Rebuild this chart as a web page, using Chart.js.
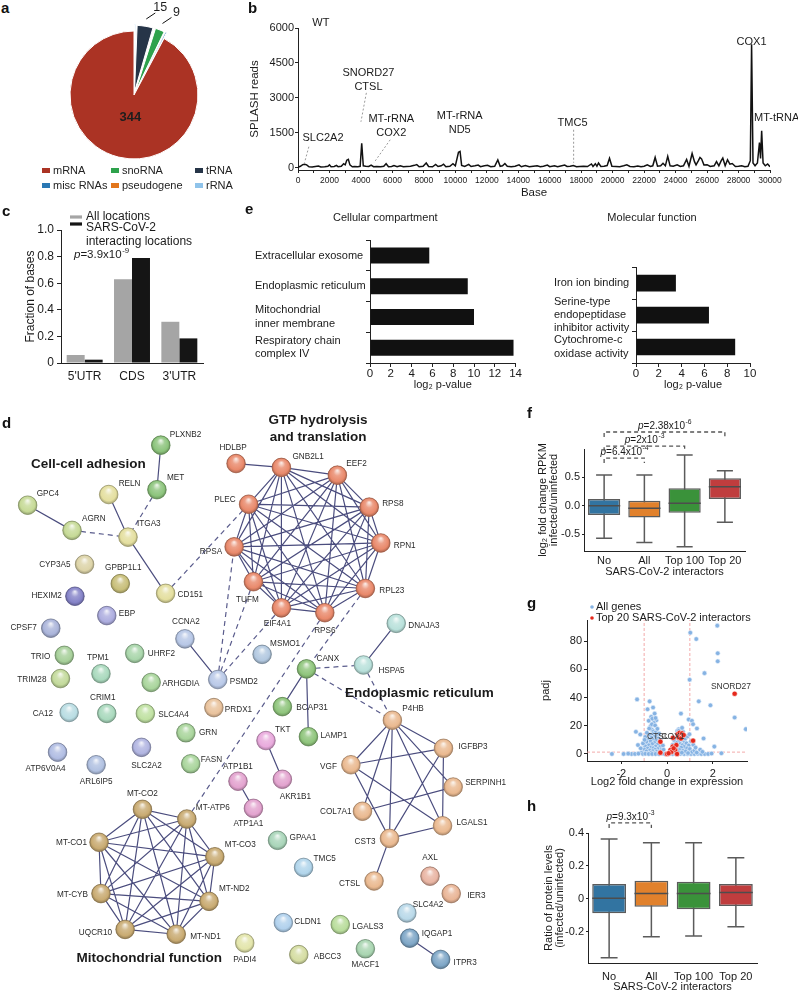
<!DOCTYPE html>
<html><head><meta charset="utf-8">
<script src="https://cdn.jsdelivr.net/npm/chart.js@4.4.1/dist/chart.umd.min.js"></script>
<style>
html,body{margin:0;padding:0;background:#fff;}
#fig{position:relative;width:798px;height:992px;overflow:hidden;font-family:'Liberation Sans',Arial,sans-serif;background:#fff;}
#fig canvas{position:absolute;}
.lt{position:absolute;font-weight:bold;font-size:15px;line-height:15px;color:#111;}
.lg{position:absolute;font-size:11px;color:#222;white-space:nowrap;line-height:12px;}
.lg i{display:inline-block;width:8px;height:5px;margin-right:3px;vertical-align:1px;}
</style></head><body>
<div id="fig">
<canvas id="ca" width="200" height="190" style="left:34px;top:0px"></canvas>
<canvas id="cb" width="568" height="200" style="left:230px;top:0px"></canvas>
<canvas id="cc" width="230" height="190" style="left:0px;top:200px"></canvas>
<canvas id="ce1" width="280" height="195" style="left:252px;top:200px"></canvas>
<canvas id="ce2" width="209" height="195" style="left:551px;top:200px"></canvas>
<canvas id="cd" width="530" height="592" style="left:0px;top:400px"></canvas>
<canvas id="cf" width="240" height="175" style="left:530px;top:405px"></canvas>
<canvas id="cg" width="240" height="192" style="left:530px;top:600px"></canvas>
<canvas id="ch" width="240" height="187" style="left:530px;top:805px"></canvas>
<div class="lt" style="left:1px;top:0px">a</div>
<div class="lt" style="left:248px;top:0px">b</div>
<div class="lt" style="left:2px;top:203px">c</div>
<div class="lt" style="left:2px;top:415px">d</div>
<div class="lt" style="left:245px;top:201px">e</div>
<div class="lt" style="left:527px;top:405px">f</div>
<div class="lt" style="left:527px;top:595px">g</div>
<div class="lt" style="left:527px;top:798px">h</div>
</div>
<script>
// ======================= DATA =======================
// a — RNA classes of SARS-CoV-2 interacting host RNAs
const rnaTypes  = ['rRNA', 'tRNA', 'pseudogene', 'snoRNA', 'misc RNAs', 'mRNA'];
const rnaCounts = [2, 15, 1, 9, 2, 344];
const rnaLegendOrder = ['mRNA', 'snoRNA', 'tRNA', 'misc RNAs', 'pseudogene', 'rRNA'];
const rnaLabelled = ['tRNA', 'snoRNA', 'mRNA'];

// b — SPLASH reads along the SARS-CoV-2 genome (WT)
const bBase = [0,150,300,420,550,700,900,1100,1300,1450,1700,1900,2000,2100,2300,2450,2550,2750,2900,3000,3100,3200,3300,3450,3600,3800,3950,4050,4150,4300,4500,4650,4800,5000,5250,5450,5600,5750,5950,6100,6300,6500,6700,6900,7150,7400,7550,7700,7950,8150,8300,8550,8750,8900,9100,9250,9400,9650,9850,10000,10200,10300,10400,10600,10850,11000,11250,11450,11600,11850,12050,12250,12500,12700,12850,13000,13150,13300,13550,13800,14050,14200,14450,14700,14950,15200,15400,15600,15850,16000,16300,16500,16700,16950,17100,17300,17500,17700,17900,18150,18400,18650,18750,18900,19000,19100,19250,19450,19650,19800,19950,20200,20450,20700,20900,21100,21350,21600,21800,22000,22200,22400,22550,22700,22850,23050,23200,23350,23500,23650,23850,24100,24300,24500,24700,24850,25050,25200,25300,25450,25550,25650,25800,26000,26200,26450,26600,26750,26900,27000,27150,27300,27450,27600,27800,28000,28200,28400,28600,28750,28830,28920,29050,29200,29330,29400,29470,29560,29700,29850,30000];
const bReads = [20,60,130,150,120,40,30,50,70,30,40,60,120,40,50,100,40,60,170,120,320,360,120,40,50,40,60,1050,80,60,50,110,40,50,40,60,170,40,50,90,40,80,40,50,60,100,130,40,60,200,50,40,140,50,80,150,40,60,170,80,660,700,100,50,140,50,80,110,40,80,100,40,60,330,60,80,180,60,40,60,120,40,90,40,60,80,40,60,110,40,80,40,70,110,50,60,90,40,50,60,50,160,50,170,60,200,50,60,90,400,60,50,40,80,120,50,40,70,40,60,120,50,80,440,60,80,190,80,490,80,60,120,50,80,350,60,610,260,120,300,440,380,120,130,50,80,260,80,300,410,80,340,150,180,50,60,80,40,60,300,5300,200,80,200,1080,400,1590,200,80,160,40];
const bYTicks = [0, 1500, 3000, 4500, 6000];
const bXTicks = Array.from({length: 31}, (_, i) => i * 1000);
const bNotes = [ // text lines, base, reads
  [['WT'], 1450, 6210],
  [['SLC2A2'], 1590, 1290],
  [['SNORD27', 'CTSL'], 4480, 4070],
  [['MT-rRNA', 'COX2'], 5930, 2100],
  [['MT-rRNA', 'ND5'], 10280, 2230],
  [['TMC5'], 17450, 1930],
  [['COX1'], 28830, 5400],
  [['MT-tRNA'], 30420, 2140]
];
const bLeaders = [[690, 900, 414, 214], [4345, 3214, 4000, 1971], [5862, 1200, 4828, 214], [17518, 1629, 17518, 214]];

// c — fraction of bases per transcript region
const cRegions = ["5'UTR", 'CDS', "3'UTR"];
const cAll  = [0.06, 0.63, 0.31];
const cSars = [0.025, 0.79, 0.185];
const cYTicks = [0, 0.2, 0.4, 0.6, 0.8, 1.0];
const cYLabels = ['0', '0.2', '0.4', '0.6', '0.8', '1.0'];

// e — GO enrichment
const ccTerms = ['Extracellular exosome', 'Endoplasmic reticulum', ['Mitochondrial', 'inner membrane'], ['Respiratory chain', 'complex IV']];
const ccLog2p = [5.7, 9.4, 10.0, 13.8];
const mfTerms = ['Iron ion binding', ['Serine-type', 'endopeptidase', 'inhibitor activity'], ['Cytochrome-c', 'oxidase activity']];
const mfLog2p = [3.5, 6.4, 8.7];

// f — RNA fold change boxplots
const groups = ['No', 'All', 'Top 100', 'Top 20'];
const fMin = [-0.575, -0.65, -0.723, -0.293];
const fQ1  = [-0.164, -0.21, -0.123, 0.118];
const fMed = [0.0, -0.046, 0.042, 0.335];
const fQ3  = [0.118, 0.088, 0.307, 0.483];
const fMax = [0.54, 0.54, 0.894, 0.617];
const fYTicks = [-0.5, 0, 0.5];
const fYLabels = ['-0.5', '0.0', '0.5'];
const fTests = [[0, 1, '6.4', '-4'], [0, 2, '2', '-3'], [0, 3, '2.38', '-6']];

// g — volcano plot
const gAll = [[-1.31,38.7],[-0.76,37.3],[-0.61,32.9],[-0.85,31.7],[-0.54,28.6],[-0.69,26.3],[-0.47,23.9],[-0.80,23.5],[-1.36,15.7],[-1.17,13.8],[-1.27,6.3],[-2.41,0],[1.02,86],[1.28,81.5],[2.22,71.4],[2.22,65.7],[1.64,57.3],[0.99,52.6],[1.90,34.5],[1.39,37.3],[0.61,28.6],[0.95,24.4],[1.09,23.5],[1.14,21.1],[2.96,25.8],[3.45,17.6],[1.31,18.1],[1.60,11.0],[2.07,5.2],[2.38,0.5],[0.51,17.4],[0.45,16.2],[0.70,15.7],[2.2,91],
 [-0.72,19.5],[-0.65,17],[-0.58,16],[-0.5,15.2],[-0.62,14],[-0.75,13.5],[-0.45,13],[-0.55,12.2],[-0.68,11.5],[-0.38,11],[-0.82,10.5],[-0.6,10],[-0.48,9.5],[-0.72,9],[-0.9,8.5],[-0.35,8.2],[-0.55,7.8],[-0.65,7],[-0.42,6.5],[-0.8,6.2],[-0.95,5.5],[-0.5,5.2],[-0.3,5],[-0.7,4.6],[-0.6,4],[-0.85,3.8],[-0.4,3.5],[-1.0,3.2],[-0.52,3],[-0.25,2.8],[-0.75,2.5],[-0.62,2],[-0.9,1.8],[-0.45,1.6],[-0.33,1.2],[-1.1,1],[-0.7,0.8],[-0.55,0.5],[-0.2,0.4],[-0.85,0.3],[-0.58,22],[-0.66,21],[-0.52,20.2],[-0.78,18],[-0.42,17.8],[-0.88,15],[-0.35,14.5],[-0.95,12],[-0.28,9.8],[-1.05,7.5],[-0.18,6],[-0.15,3],[-1.15,4],[-0.98,10],[-0.64,25],[-0.5,25.5],
 [-1.55,0],[-1.4,0],[-1.25,0.2],[-1.05,0],[-0.95,0.1],[-0.8,0],[-0.65,0],[-0.5,0],[-0.35,0],[-0.1,0],[0.1,0],[0.25,0],[0.6,0.1],[0.75,0],[0.9,0],[1.05,0],[1.2,0],[1.35,0.1],[1.5,0],[1.65,0],[1.8,0],[-1.7,0.2],[-1.9,0],[1.95,0.3],
 [0.45,13],[0.55,12],[0.62,10.5],[0.7,9.5],[0.5,9],[0.78,8.5],[0.4,8],[0.85,7.5],[0.58,7],[0.68,6.2],[0.95,6],[0.48,5.5],[0.75,5],[0.62,4.5],[0.88,4],[1.0,3.5],[0.42,3.2],[0.55,2.8],[0.7,2.2],[0.82,1.8],[1.1,1.5],[0.5,1.2],[0.65,0.9],[0.92,0.6],[0.35,0.5],[1.2,2.5],[0.8,11],[0.9,12.5],[0.72,13.2],[0.6,14.5],[1.05,9],[1.15,6.5],[0.3,10],[0.25,6.5],[0.2,3.5],[0.15,1.5],[1.25,4.5],[1.3,1],[0.98,14],[0.52,16.5],[0.66,18.5],[1.45,3],[1.55,1.5]];
const gTop = [[2.96,42.7],[-0.29,8.7],[-0.29,0.9],[0.26,11.5],[0.47,14.1],[0.55,15],[0.66,14.6],[0.51,11.7],[1.14,9.4],[0.25,5.2],[0.36,2.8],[0.15,2.8],[0,0],[0.41,6.3],[0.19,1.4],[0.44,0],[0.07,0.5],[0.29,4],[0.61,11],[0.73,13.4]];
const gGeneNotes = [['SNORD27', 2.8, 47.5], ['CTSL', -0.4, 12], ['COX1', 0.26, 12]];
const gFcCut = 1, gPadjCut = 1.3;
const gXTicks = [-2, 0, 2];
const gYTicks = [0, 20, 40, 60, 80];

// h — protein level ratio boxplots
const hMin = [-0.358, -0.23, -0.226, -0.169];
const hQ1  = [-0.088, -0.048, -0.064, -0.044];
const hMed = [0.003, 0.033, 0.033, 0.039];
const hQ3  = [0.09, 0.11, 0.104, 0.09];
const hMax = [0.363, 0.341, 0.341, 0.25];
const hYTicks = [-0.2, 0, 0.2, 0.4];
const hYLabels = ['-0.2', '0', '0.2', '0.4'];
const hTests = [[0, 1, '9.3', '-3']];

// d — interaction network (name, layout x, layout y)
const nodes = [
 ['PLXNB2',157,437],['MET',153,483],['RELN',103,488],['GPC4',19,499],['AGRN',65,525],['ITGA3',123,532],
 ['CYP3A5',78,560],['GPBP1L1',115,580],['HEXIM2',68,593],['CD151',162,590],['EBP',101,613],['CPSF7',43,626],
 ['CCNA2',182,637],['TRIO',57,654],['UHRF2',130,652],['MSMO1',262,653],['TPM1',95,673],['TRIM28',53,678],
 ['ARHGDIA',147,682],['PSMD2',216,679],['CRIM1',101,714],['CA12',62,713],['SLC4A4',141,714],['PRDX1',212,708],
 ['GRN',183,734],['TKT',266,742],['ATP6V0A4',50,754],['SLC2A2',137,749],['ARL6IP5',90,767],['FASN',188,766],
 ['ATP1B1',237,784],['AKR1B1',283,782],['MT-CO2',138,813],['MT-ATP6',184,823],['ATP1A1',253,812],['MT-CO1',93,847],
 ['GPAA1',278,845],['MT-CO3',213,862],['MT-CYB',95,900],['MT-ND2',207,908],['UQCR10',120,937],['MT-ND1',173,942],
 ['PADI4',244,951],
 ['HDLBP',235,456],['GNB2L1',282,460],['EEF2',340,468],['RPS8',373,501],['RPN1',385,538],['RPL23',369,585],
 ['RPS6',327,610],['EIF4A1',282,605],['TUFM',253,578],['RPSA',233,542],['PLEC',248,498],
 ['DNAJA3',401,621],['CANX',308,668],['HSPA5',367,664],['BCAP31',283,707],['LAMP1',310,738],['P4HB',397,721],
 ['IGFBP3',450,750],['VGF',354,767],['SERPINH1',460,790],['COL7A1',366,815],['LGALS1',449,830],['CST3',394,843],
 ['CTSL',378,887],['TMC5',305,873],['AXL',436,882],['IER3',458,900],['SLC4A2',412,920],['CLDN1',284,930],
 ['LGALS3',343,932],['IQGAP1',415,946],['ABCC3',300,963],['MACF1',369,957],['ITPR3',447,968]
];
const solidEdges = [['PLXNB2','MET'],['GPC4','AGRN'],['RELN','ITGA3'],['ITGA3','CD151'],['CCNA2','PSMD2'],['HDLBP','GNB2L1'],
 ['HSPA5','DNAJA3'],['CANX','BCAP31'],['CANX','LAMP1'],['TKT','AKR1B1'],['ATP1B1','ATP1A1'],['CST3','CTSL'],['IQGAP1','ITPR3'],
 ['P4HB','VGF'],['P4HB','IGFBP3'],['P4HB','SERPINH1'],['P4HB','LGALS1'],['P4HB','CST3'],['P4HB','COL7A1'],['VGF','IGFBP3'],
 ['VGF','LGALS1'],['VGF','CST3'],['IGFBP3','LGALS1'],['IGFBP3','CST3'],['SERPINH1','COL7A1'],['LGALS1','CST3']];
const gtpClique  = ['GNB2L1','EEF2','RPS8','RPN1','RPL23','RPS6','EIF4A1','TUFM','RPSA','PLEC'];
const mitoClique = ['MT-CO2','MT-ATP6','MT-CO3','MT-ND2','MT-ND1','UQCR10','MT-CYB','MT-CO1'];
const dashedEdges = [['MET','ITGA3'],['AGRN','ITGA3'],['CD151','PLEC'],['PSMD2','RPSA'],['PSMD2','TUFM'],['PSMD2','EIF4A1'],
 ['MT-ATP6','RPS6'],['RPL23','CANX'],['CANX','HSPA5'],['CANX','P4HB'],['HSPA5','P4HB']];
const dTitles = [['Cell-cell adhesion', 82, 457], ['GTP hydrolysis', 320, 411], ['and translation', 320, 429],
 ['Endoplasmic reticulum', 425, 693], ['Mitochondrial function', 145, 967]];

// ======================= STYLE =======================
const rnaColors = {'mRNA':'#ab3324','snoRNA':'#2ea24c','tRNA':'#263548','misc RNAs':'#2a78b4','pseudogene':'#e2761c','rRNA':'#8fc3ea'};
const boxColors = ['#3274a1', '#e1812c', '#3a923a', '#c03d3e'];
const nodeStyle = { // color, label dx, dy, align
 'PLXNB2':['#8cc47c',9,-10,'l'],'MET':['#8cc47c',10,-12,'l'],'RELN':['#e4df9f',10,-11,'l'],'GPC4':['#c6da96',9,-11,'l'],
 'AGRN':['#c6da96',10,-12,'l'],'ITGA3':['#e4df9f',9,-13,'l'],'CYP3A5':['#ddd4a8',-14,0,'r'],'GPBP1L1':['#c8bf7a',3,-16,'c'],
 'HEXIM2':['#8583c8',-13,0,'r'],'CD151':['#e4df9f',12,1,'l'],'EBP':['#adaddf',12,-2,'l'],'CPSF7':['#aab4da',-14,0,'r'],
 'CCNA2':['#b7c7e6',1,-17,'c'],'TRIO':['#a7d09a',-14,1,'r'],'UHRF2':['#a9d6ab',13,0,'l'],'MSMO1':['#b2c8e0',8,-11,'l'],
 'TPM1':['#a9d9bd',-3,-16,'c'],'TRIM28':['#c3da9b',-14,1,'r'],'ARHGDIA':['#a9d59c',11,1,'l'],'PSMD2':['#b9c9e8',12,2,'l'],
 'CRIM1':['#a9d9bd',-4,-16,'c'],'CA12':['#b9dde3',-16,1,'r'],'SLC4A4':['#c0e1a2',13,1,'l'],'PRDX1':['#e9c29c',11,2,'l'],
 'GRN':['#a9d59c',13,0,'l'],'TKT':['#e9aadd',9,-11,'l'],'ATP6V0A4':['#b1bde3',-12,17,'c'],'SLC2A2':['#b1b5e1',5,18,'c'],
 'ARL6IP5':['#b1c1e1',0,17,'c'],'FASN':['#a9d59c',10,-4,'l'],'ATP1B1':['#e3a3cf',0,-14,'c'],'AKR1B1':['#e3a3cf',13,17,'c'],
 'MT-CO2':['#c9ab72',0,-16,'c'],'MT-ATP6':['#c9ab72',9,-11,'l'],'ATP1A1':['#e3a3cf',-5,15,'c'],'MT-CO1':['#c9ab72',-12,0,'r'],
 'GPAA1':['#a9d5b9',12,-3,'l'],'MT-CO3':['#c9ab72',10,-12,'l'],'MT-CYB':['#c9ab72',-13,1,'r'],'MT-ND2':['#c9ab72',10,-13,'l'],
 'UQCR10':['#c9ab72',-13,3,'r'],'MT-ND1':['#c9ab72',14,2,'l'],'PADI4':['#e3e5ab',0,17,'c'],
 'HDLBP':['#e9896b',-3,-16,'c'],'GNB2L1':['#e9896b',11,-11,'l'],'EEF2':['#e9896b',9,-11,'l'],'RPS8':['#e9896b',13,-3,'l'],
 'RPN1':['#e9896b',13,3,'l'],'RPL23':['#e9896b',14,2,'l'],'RPS6':['#e9896b',0,18,'c'],'EIF4A1':['#e9896b',-4,16,'c'],
 'TUFM':['#e9896b',-6,18,'c'],'RPSA':['#e9896b',-12,5,'r'],'PLEC':['#e9896b',-13,-4,'r'],
 'DNAJA3':['#b9e1db',12,2,'l'],'CANX':['#8fc57c',10,-10,'l'],'HSPA5':['#b9e1db',15,6,'l'],'BCAP31':['#8fc57c',14,1,'l'],
 'LAMP1':['#8fc57c',12,-1,'l'],'P4HB':['#eab990',10,-11,'l'],'IGFBP3':['#eab990',15,-2,'l'],'VGF':['#eab990',-14,2,'r'],
 'SERPINH1':['#eab990',12,-4,'l'],'COL7A1':['#eab990',-11,0,'r'],'LGALS1':['#eab990',14,-3,'l'],'CST3':['#eab990',-14,3,'r'],
 'CTSL':['#eab990',-14,3,'r'],'TMC5':['#b1d5eb',10,-9,'l'],'AXL':['#e9b5a3',0,-18,'c'],'IER3':['#e9b596',16,2,'l'],
 'SLC4A2':['#b9d9e9',6,-8,'l'],'CLDN1':['#b1d1ed',11,-1,'l'],'LGALS3':['#b9dd9c',12,2,'l'],'IQGAP1':['#7fa7c7',12,-4,'l'],
 'ABCC3':['#d5dda2',15,2,'l'],'MACF1':['#a9d5b1',0,16,'c'],'ITPR3':['#7fa7c7',13,3,'l']
};

// ======================= HELPERS =======================
const FF = "'Liberation Sans', Arial, 'DejaVu Sans', sans-serif";
Chart.defaults.font.family = FF;
Chart.defaults.font.size = 11;
Chart.defaults.color = '#1a1a1a';
Chart.defaults.animation = false;
Chart.defaults.events = [];
Chart.defaults.plugins.legend.display = false;
Chart.defaults.plugins.tooltip.enabled = false;
Chart.defaults.responsive = false;
Chart.defaults.devicePixelRatio = 1;

const $ = id => document.getElementById(id);
const fnt = (s, w = 'normal', st = 'normal') => `${st} ${w} ${s}px ${FF}`;
function merge(a, b) {
  const o = Object.assign({}, a);
  for (const k in b) {
    const v = b[k];
    if (v && typeof v === 'object' && !Array.isArray(v) && a[k] && typeof a[k] === 'object' && !Array.isArray(a[k])) o[k] = merge(a[k], v);
    else o[k] = v;
  }
  return o;
}
function ax(extra) {
  return merge({
    border: {display: true, color: '#222', width: 1},
    grid: {display: true, drawOnChartArea: false, drawTicks: true, tickLength: 4, color: '#222', lineWidth: 1},
    ticks: {color: '#1a1a1a', font: {size: 11}, padding: 2, autoSkip: false, maxRotation: 0}
  }, extra);
}
const setTicks = vals => s => { s.ticks = vals.map(v => ({value: v})); };
function txt(ctx, s, x, y, size, o = {}) {
  ctx.save();
  ctx.font = fnt(size, o.weight || 'normal', o.style || 'normal');
  ctx.fillStyle = o.color || '#1a1a1a';
  ctx.textAlign = o.align || 'center';
  ctx.textBaseline = 'middle';
  ctx.fillText(s, x, y);
  ctx.restore();
}
function pval(ctx, x, y, mant, exp, size, align = 'center') {
  ctx.save();
  ctx.textBaseline = 'middle'; ctx.textAlign = 'left'; ctx.fillStyle = '#1a1a1a';
  const body = '=' + mant + 'x10';
  ctx.font = fnt(size, 'normal', 'italic'); const w1 = ctx.measureText('p').width;
  ctx.font = fnt(size); const w2 = ctx.measureText(body).width;
  ctx.font = fnt(size * 0.68); const w3 = ctx.measureText(exp).width;
  const x0 = align === 'center' ? x - (w1 + w2 + w3) / 2 : x;
  ctx.font = fnt(size, 'normal', 'italic'); ctx.fillText('p', x0, y);
  ctx.font = fnt(size); ctx.fillText(body, x0 + w1, y);
  ctx.font = fnt(size * 0.68); ctx.fillText(exp, x0 + w1 + w2 + 0.5, y - size * 0.38);
  ctx.restore();
}
function shade(hex, amt) {
  const n = parseInt(hex.slice(1), 16);
  let c = [n >> 16, (n >> 8) & 255, n & 255];
  c = c.map(v => amt > 0 ? v + (255 - v) * amt : v * (1 + amt));
  return `rgb(${c[0] | 0},${c[1] | 0},${c[2] | 0})`;
}

// ======================= a: pie =======================
(function () {
  const fig = $('fig');
  const colX = [42, 111, 195], rowY = [164, 179];
  rnaLegendOrder.forEach((name, i) => {
    const d = document.createElement('div');
    d.className = 'lg';
    d.style.left = colX[i % 3] + 'px';
    d.style.top = rowY[Math.floor(i / 3)] + 'px';
    d.innerHTML = `<i style="background:${rnaColors[name]}"></i>${name}`;
    fig.appendChild(d);
  });
  const pieNotes = {
    id: 'pieNotes',
    afterDatasetsDraw(chart) {
      const ctx = chart.ctx, meta = chart.getDatasetMeta(0);
      rnaLabelled.forEach(name => {
        const i = rnaTypes.indexOf(name), el = meta.data[i];
        const mid = (el.startAngle + el.endAngle) / 2;
        if (name === 'mRNA') {
          const r = el.outerRadius * 0.36;
          txt(ctx, String(rnaCounts[i]), el.x + Math.cos(mid) * r + 2, el.y + Math.sin(mid) * r, 13, {weight: 'bold', color: '#1e1e1e'});
        } else {
          const R = el.outerRadius + el.options.offset;
          const sx = el.x + Math.cos(mid) * R, sy = el.y + Math.sin(mid) * R;
          ctx.save(); ctx.strokeStyle = '#111'; ctx.lineWidth = 1;
          ctx.beginPath(); ctx.moveTo(sx, sy); ctx.lineTo(sx + 9, sy - 6); ctx.stroke(); ctx.restore();
          txt(ctx, String(rnaCounts[i]), sx + 14, sy - 11, 12.5, {color: '#1e1e1e'});
        }
      });
    }
  };
  new Chart($('ca'), {
    type: 'pie',
    data: {labels: rnaTypes, datasets: [{
      data: rnaCounts,
      backgroundColor: rnaTypes.map(t => rnaColors[t]),
      borderColor: '#ffffff', borderWidth: 1,
      offset: rnaCounts.map(v => v < 50 ? 13 : 0)
    }]},
    options: {radius: 64, layout: {padding: 0}},
    plugins: [pieNotes]
  });
})();

// ======================= b: line =======================
(function () {
  const notes = {
    id: 'bNotes',
    afterDatasetsDraw(chart) {
      const ctx = chart.ctx, x = chart.scales.x, y = chart.scales.y;
      ctx.save(); ctx.strokeStyle = '#9a9a9a'; ctx.lineWidth = 1; ctx.setLineDash([2, 2]);
      bLeaders.forEach(([b1, r1, b2, r2]) => {
        ctx.beginPath(); ctx.moveTo(x.getPixelForValue(b1), y.getPixelForValue(r1));
        ctx.lineTo(x.getPixelForValue(b2), y.getPixelForValue(r2)); ctx.stroke();
      });
      ctx.restore();
      bNotes.forEach(([lines, b, r]) => {
        lines.forEach((s, k) => txt(ctx, s, x.getPixelForValue(b), y.getPixelForValue(r) + k * 14.5, 11));
      });
    }
  };
  new Chart($('cb'), {
    type: 'scatter',
    data: {datasets: [{
      data: bBase.map((b, i) => ({x: b, y: bReads[i]})),
      showLine: true, borderColor: '#111', borderWidth: 1.5, pointRadius: 0, tension: 0
    }]},
    options: {
      layout: {padding: {top: 28, right: 28, left: 0, bottom: 0}},
      scales: {
        x: ax({type: 'linear', min: 0, max: 30000, afterBuildTicks: setTicks(bXTicks),
          ticks: {font: {size: 8.5}, padding: 3, callback: v => (v % 2000 === 0 ? String(v) : '')},
          grid: {tickLength: 3},
          title: {display: true, text: 'Base', font: {size: 11.5}, padding: {top: 0, bottom: 0}},
          afterFit: s => { s.height = 30; }}),
        y: ax({type: 'linear', min: -100, max: 6000, afterBuildTicks: setTicks(bYTicks),
          ticks: {font: {size: 11}, padding: 1, callback: v => String(v)},
          grid: {tickLength: 3},
          title: {display: true, text: 'SPLASH reads', font: {size: 11.5}, padding: {top: 18, bottom: 0}},
          afterFit: s => { s.width = 68; }})
      }
    },
    plugins: [notes]
  });
})();

// ======================= c: grouped bars =======================
(function () {
  const notes = {
    id: 'cNotes',
    afterDatasetsDraw(chart) {
      const ctx = chart.ctx;
      const ds = chart.data.datasets;
      const markY = [17, 24], textY = [[17], [28, 42]];
      ds.forEach((d, i) => {
        ctx.save(); ctx.strokeStyle = d.backgroundColor; ctx.lineWidth = 3.2;
        ctx.beginPath(); ctx.moveTo(70, markY[i]); ctx.lineTo(82, markY[i]); ctx.stroke(); ctx.restore();
        const lines = Array.isArray(d.label) ? d.label : [d.label];
        lines.forEach((s, k) => txt(ctx, s, 86, textY[i][k], 12, {align: 'left'}));
      });
      pval(ctx, 74, 55, '3.9', '-9', 11.5, 'left');
    }
  };
  new Chart($('cc'), {
    type: 'bar',
    data: {labels: cRegions, datasets: [
      {label: 'All locations', data: cAll, backgroundColor: '#a5a5a5', categoryPercentage: 0.76, barPercentage: 1},
      {label: ['SARS-CoV-2', 'interacting locations'], data: cSars, backgroundColor: '#151515', categoryPercentage: 0.76, barPercentage: 1}
    ]},
    options: {
      layout: {padding: {top: 30, right: 27, left: 0, bottom: 0}},
      scales: {
        x: ax({grid: {drawTicks: false}, ticks: {font: {size: 12}, padding: 6}, afterFit: s => { s.height = 27; }}),
        y: ax({min: 0, max: 1, afterBuildTicks: setTicks(cYTicks),
          ticks: {font: {size: 12}, padding: 3, callback: (v, i) => cYLabels[i]},
          title: {display: true, text: 'Fraction of bases', font: {size: 12}, padding: {top: 23, bottom: 0}},
          afterFit: s => { s.width = 61; }})
      }
    },
    plugins: [notes]
  });
})();

// ======================= e: horizontal bars =======================
function goChart(id, terms, vals, xmax, title, yWidth, padRight, titleBottom) {
  const ticks = [];
  for (let v = 0; v <= xmax; v += 2) ticks.push(v);
  new Chart($(id), {
    type: 'bar',
    data: {labels: terms, datasets: [{data: vals, backgroundColor: '#111', barPercentage: 0.52, categoryPercentage: 1}]},
    options: {
      indexAxis: 'y',
      layout: {padding: {left: 3, right: padRight, top: 0, bottom: 0}},
      plugins: {title: {display: true, text: title, font: {size: 11, weight: 'normal'}, color: '#1a1a1a', padding: {top: 11, bottom: titleBottom}}},
      scales: {
        x: ax({min: 0, max: xmax, afterBuildTicks: setTicks(ticks),
          ticks: {font: {size: 11.5}, padding: 0},
          title: {display: true, text: 'log₂ p-value', font: {size: 11}, padding: {top: 0, bottom: 3.4}},
          afterFit: s => { s.height = 32; }}),
        y: ax({grid: {offset: true}, ticks: {crossAlign: 'far', font: {size: 11}, padding: 4},
          afterFit: s => { s.width = yWidth; }})
      }
    }
  });
}
goChart('ce1', ccTerms, ccLog2p, 14, 'Cellular compartment', 115, 16.4, 16);
goChart('ce2', mfTerms, mfLog2p, 10, 'Molecular function', 82, 10, 43);

// ======================= f & h: box plots =======================
function boxPlugin(mins, maxs, meds, tests, levels, pSize) {
  return {
    id: 'box',
    beforeDatasetsDraw(chart) {
      const ctx = chart.ctx, meta = chart.getDatasetMeta(0), y = chart.scales.y;
      ctx.save(); ctx.strokeStyle = '#5b5b5b'; ctx.lineWidth = 1.5;
      meta.data.forEach((bar, i) => {
        const x = bar.x, w = bar.width, y0 = y.getPixelForValue(mins[i]), y1 = y.getPixelForValue(maxs[i]);
        ctx.beginPath();
        ctx.moveTo(x, y0); ctx.lineTo(x, y1);
        ctx.moveTo(x - w / 4, y0); ctx.lineTo(x + w / 4, y0);
        ctx.moveTo(x - w / 4, y1); ctx.lineTo(x + w / 4, y1);
        ctx.stroke();
      });
      ctx.restore();
    },
    afterDatasetsDraw(chart) {
      const ctx = chart.ctx, meta = chart.getDatasetMeta(0), y = chart.scales.y;
      ctx.save(); ctx.strokeStyle = '#4d4d4d'; ctx.lineWidth = 1.5;
      meta.data.forEach((bar, i) => {
        const ym = y.getPixelForValue(meds[i]);
        ctx.beginPath(); ctx.moveTo(bar.x - bar.width / 2, ym); ctx.lineTo(bar.x + bar.width / 2, ym); ctx.stroke();
      });
      ctx.setLineDash([4, 3]); ctx.strokeStyle = '#555'; ctx.lineWidth = 1.3;
      tests.forEach(([a, b, mant, exp], k) => {
        const xa = meta.data[a].x, xb = meta.data[b].x, yl = y.getPixelForValue(levels[k]);
        ctx.beginPath();
        ctx.moveTo(xa, yl + 5); ctx.lineTo(xa, yl); ctx.lineTo(xb, yl); ctx.lineTo(xb, yl + 5);
        ctx.stroke();
        pval(ctx, (xa + xb) / 2, yl - 6, mant, exp, pSize);
      });
      ctx.restore();
    }
  };
}
(function () {
  new Chart($('cf'), {
    type: 'bar',
    data: {labels: groups, datasets: [{
      data: fQ1.map((v, i) => [v, fQ3[i]]), backgroundColor: boxColors,
      borderColor: '#5b5b5b', borderWidth: 1.5, borderSkipped: false, barPercentage: 0.8, categoryPercentage: 1
    }]},
    options: {
      layout: {padding: {top: 44, right: 25, left: 0, bottom: 0}},
      scales: {
        x: ax({grid: {drawTicks: false}, ticks: {font: {size: 11}, padding: 3},
          title: {display: true, text: 'SARS-CoV-2 interactors', font: {size: 11}, padding: {top: 0, bottom: 1.4}},
          afterFit: s => { s.height = 29; }}),
        y: ax({min: -0.8, max: 1.0, afterBuildTicks: setTicks(fYTicks),
          ticks: {font: {size: 11}, padding: 2, callback: (v, i) => fYLabels[i]},
          grid: {tickLength: 2},
          title: {display: true, text: ['log₂ fold change RPKM', 'infected/uninfected'], font: {size: 11, lineHeight: 1.0}, padding: {top: 7.5, bottom: 0}},
          afterFit: s => { s.width = 54; }})
      }
    },
    plugins: [boxPlugin(fMin, fMax, fMed, fTests, [0.84, 1.05, 1.30], 10)]
  });
  new Chart($('ch'), {
    type: 'bar',
    data: {labels: groups, datasets: [{
      data: hQ1.map((v, i) => [v, hQ3[i]]), backgroundColor: boxColors,
      borderColor: '#5b5b5b', borderWidth: 1.5, borderSkipped: false, barPercentage: 0.8, categoryPercentage: 1
    }]},
    options: {
      layout: {padding: {top: 28, right: 13, left: 0, bottom: 0}},
      scales: {
        x: ax({grid: {drawTicks: false}, ticks: {font: {size: 11}, padding: 7.5},
          title: {display: true, text: 'SARS-CoV-2 interactors', font: {size: 11, lineHeight: 1.0}, padding: {top: 0, bottom: 0}},
          afterFit: s => { s.height = 29; }}),
        y: ax({min: -0.39, max: 0.4, afterBuildTicks: setTicks(hYTicks),
          ticks: {font: {size: 11}, padding: 2, callback: (v, i) => hYLabels[i]},
          grid: {tickLength: 2},
          title: {display: true, text: ['Ratio of protein levels', '(infected/uninfected)'], font: {size: 11, lineHeight: 1.05}, padding: {top: 13, bottom: 0}},
          afterFit: s => { s.width = 58; }})
      }
    },
    plugins: [boxPlugin(hMin, hMax, hMed, hTests, [0.461], 10)]
  });
})();

// ======================= g: volcano =======================
(function () {
  const notes = {
    id: 'gNotes',
    afterDatasetsDraw(chart) {
      const ctx = chart.ctx, x = chart.scales.x, y = chart.scales.y;
      const legendDs = [chart.data.datasets[1], chart.data.datasets[0]];
      legendDs.forEach((d, k) => {
        const yy = 7 + k * 11;
        ctx.save(); ctx.fillStyle = d.backgroundColor;
        ctx.beginPath(); ctx.arc(62, yy, 1.8, 0, Math.PI * 2); ctx.fill(); ctx.restore();
        txt(ctx, d.label, 66, yy, 11, {align: 'left'});
      });
      gGeneNotes.forEach(([s, gx, gy]) => txt(ctx, s, x.getPixelForValue(gx), y.getPixelForValue(gy), 8.5, {color: '#333'}));
    }
  };
  const dash = {showLine: true, borderColor: '#f2a0a0', borderWidth: 0.9, borderDash: [3, 2], pointRadius: 0};
  new Chart($('cg'), {
    type: 'scatter',
    data: {datasets: [
      {label: 'Top 20 SARS-CoV-2 interactors', data: gTop.map(([a, b]) => ({x: a, y: b})), pointRadius: 2.6, backgroundColor: '#e5281b', borderColor: '#ffffff', borderWidth: 0.5},
      {label: 'All genes', data: gAll.map(([a, b]) => ({x: a, y: b})), pointRadius: 2.3, backgroundColor: '#86b3e3', borderColor: '#e6f0fb', borderWidth: 0.6},
      Object.assign({data: [{x: -gFcCut, y: -5}, {x: -gFcCut, y: 95}]}, dash),
      Object.assign({data: [{x: gFcCut, y: -5}, {x: gFcCut, y: 95}]}, dash),
      Object.assign({data: [{x: -3.5, y: gPadjCut}, {x: 3.5, y: gPadjCut}]}, dash)
    ]},
    options: {
      layout: {padding: {top: 20, right: 23, left: 0, bottom: 0}},
      scales: {
        x: ax({type: 'linear', min: -3.5, max: 3.5, afterBuildTicks: setTicks(gXTicks),
          ticks: {font: {size: 11}, padding: 3, callback: v => String(v)},
          grid: {tickLength: 3},
          title: {display: true, text: 'Log2 fold change in expression', font: {size: 11}, padding: {top: 0, bottom: 3.4}},
          afterFit: s => { s.height = 31; }}),
        y: ax({type: 'linear', min: -5, max: 95, afterBuildTicks: setTicks(gYTicks),
          ticks: {font: {size: 11}, padding: 2, callback: v => String(v)},
          grid: {tickLength: 3},
          title: {display: true, text: 'padj', font: {size: 11}, padding: {top: 9.4, bottom: 0}},
          afterFit: s => { s.width = 57; }})
      }
    },
    plugins: [notes]
  });
})();

// ======================= d: network =======================
(function () {
  const idx = {};
  nodes.forEach((n, i) => { idx[n[0]] = i; });
  const clique = arr => { const e = []; for (let i = 0; i < arr.length; i++) for (let j = i + 1; j < arr.length; j++) e.push([arr[i], arr[j]]); return e; };
  const edgeData = list => {
    const out = [];
    list.forEach(([a, b]) => {
      const A = nodes[idx[a]], B = nodes[idx[b]];
      out.push({x: A[1], y: A[2]}, {x: B[1], y: B[2]}, {x: NaN, y: NaN});
    });
    return out;
  };
  const R = 9.3;
  const spheres = {
    id: 'spheres',
    afterDatasetsDraw(chart) {
      const ctx = chart.ctx, meta = chart.getDatasetMeta(0);
      meta.data.forEach((el, i) => {
        const name = nodes[i][0], st = nodeStyle[name], c = st[0];
        const x = el.x, y = el.y;
        ctx.save();
        const g = ctx.createRadialGradient(x, y - R * 0.5, R * 0.05, x, y, R * 1.05);
        g.addColorStop(0, shade(c, 0.8));
        g.addColorStop(0.35, shade(c, 0.2));
        g.addColorStop(0.75, c);
        g.addColorStop(1, shade(c, -0.3));
        ctx.beginPath(); ctx.arc(x, y, R, 0, Math.PI * 2);
        ctx.fillStyle = g; ctx.fill();
        ctx.lineWidth = 0.7; ctx.strokeStyle = shade(c, -0.35); ctx.stroke();
        ctx.restore();
        const al = st[3] === 'l' ? 'left' : st[3] === 'r' ? 'right' : 'center';
        txt(ctx, name, x + st[1], y + st[2], 8.2, {align: al, color: '#2a2a2a'});
      });
      const xs = chart.scales.x, ys = chart.scales.y;
      dTitles.forEach(([s, tx, ty]) => txt(ctx, s, xs.getPixelForValue(tx), ys.getPixelForValue(ty), 13.5, {weight: 'bold', color: '#1a1a1a'}));
    }
  };
  new Chart($('cd'), {
    type: 'scatter',
    data: {datasets: [
      {data: nodes.map(n => ({x: n[1], y: n[2]})), pointRadius: R, pointBackgroundColor: nodes.map(n => nodeStyle[n[0]][0]), pointBorderWidth: 0},
      {data: edgeData(solidEdges.concat(clique(gtpClique), clique(mitoClique))), showLine: true, spanGaps: false, pointRadius: 0, borderColor: '#4b4d7e', borderWidth: 1.2},
      {data: edgeData(dashedEdges), showLine: true, spanGaps: false, pointRadius: 0, borderColor: '#5a5c8c', borderWidth: 1.2, borderDash: [5, 4]}
    ]},
    options: {
      layout: {padding: 0},
      scales: {
        x: {type: 'linear', min: 0, max: 530, display: false},
        y: {type: 'linear', min: 400, max: 992, reverse: true, display: false}
      }
    },
    plugins: [spheres]
  });
})();
</script>
</body></html>
